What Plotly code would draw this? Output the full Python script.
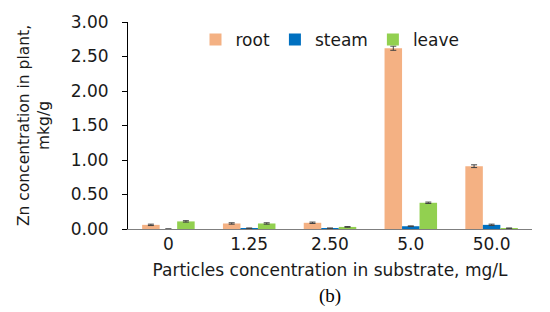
import plotly.graph_objects as go

categories = ["0", "1.25", "2.50", "5.0", "50.0"]
root = [0.06, 0.08, 0.09, 2.62, 0.91]
steam = [0.00, 0.01, 0.01, 0.04, 0.06]
leave = [0.11, 0.08, 0.03, 0.38, 0.01]
root_err = [0.01, 0.01, 0.01, 0.03, 0.02]
steam_err = [0.00, 0.005, 0.005, 0.005, 0.01]
leave_err = [0.01, 0.01, 0.005, 0.01, 0.005]
y_ticks = [0, 0.5, 1.0, 1.5, 2.0, 2.5, 3.0]

FONT = "DejaVu Sans"

def bar(name, vals, errs, color):
    return go.Bar(
        name=name, x=categories, y=vals, marker_color=color,
        marker_line_width=0,
        error_y=dict(type="data", array=errs, color="#404040", thickness=1, width=3),
    )

fig = go.Figure([
    bar("root", root, root_err, "#F4B183"),
    bar("steam", steam, steam_err, "#0070C0"),
    bar("leave", leave, leave_err, "#92D050"),
])

fig.update_layout(
    width=550, height=312,
    margin=dict(l=120, r=26, t=14, b=91, autoexpand=False),
    paper_bgcolor="white", plot_bgcolor="white",
    barmode="group", bargap=0.35, bargroupgap=0.0,
    font=dict(family=FONT, size=17, color="#1a1a1a"),
    showlegend=True,
    legend=dict(orientation="h", x=0.5, xanchor="center", y=1.0, yanchor="top",
                font=dict(size=17), bgcolor="rgba(0,0,0,0)", itemwidth=30),
    xaxis=dict(showline=True, linecolor="#7f7f7f", linewidth=1, ticks="",
               automargin=False,
               title=dict(text="Particles concentration in substrate, mg/L", standoff=10,
                          font=dict(size=17)),
               tickfont=dict(size=17)),
    yaxis=dict(range=[0, 3.0], tickvals=y_ticks, tickformat=".2f",
               automargin=False,
               showline=True, linecolor="black", linewidth=1, ticks="outside",
               ticklen=5, tickcolor="black", showgrid=False, zeroline=False,
               tickfont=dict(size=17), ticklabelstandoff=10,
               title=dict(text="Zn concentration in plant,<br>mkg/g", standoff=17,
                          font=dict(size=15.5))),
    annotations=[dict(text="(b)", x=0.5, y=-0.325, xref="paper", yref="paper",
                      yanchor="middle", showarrow=False,
                      font=dict(family="Liberation Serif", size=19, color="black"))],
)

fig.write_html("out.html")
